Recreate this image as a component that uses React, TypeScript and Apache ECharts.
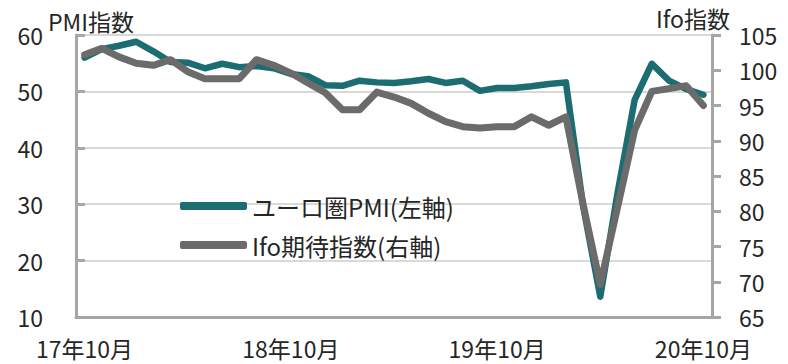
import React, { useEffect, useRef } from "react";
import * as echarts from "echarts";

const months = [
  "17年10月","17年11月","17年12月","18年1月","18年2月","18年3月","18年4月","18年5月","18年6月",
  "18年7月","18年8月","18年9月","18年10月","18年11月","18年12月","19年1月","19年2月","19年3月",
  "19年4月","19年5月","19年6月","19年7月","19年8月","19年9月","19年10月","19年11月","19年12月",
  "20年1月","20年2月","20年3月","20年4月","20年5月","20年6月","20年7月","20年8月","20年9月","20年10月",
];

const pmiValues = [
  56.0, 57.5, 58.1, 58.8, 57.1, 55.2, 55.1, 54.1, 54.9, 54.3, 54.5, 54.1, 53.1,
  52.7, 51.1, 51.0, 51.9, 51.6, 51.5, 51.8, 52.2, 51.5, 51.9, 50.1, 50.6, 50.6,
  50.9, 51.3, 51.6, 29.7, 13.6, 31.9, 48.5, 54.9, 51.9, 50.4, 49.4,
];

const ifoValues = [
  102.2, 103.1, 101.9, 101.0, 100.7, 101.5, 99.8, 98.8, 98.8, 98.8, 101.5, 100.7, 99.6,
  98.2, 96.8, 94.4, 94.4, 96.9, 96.2, 95.3, 93.9, 92.7, 92.0, 91.8, 92.0, 92.0,
  93.4, 92.2, 93.4, 81.0, 69.6, 80.5, 91.5, 97.0, 97.4, 97.8, 95.0,
];

const leftTicks = { min: 10, max: 60, interval: 10 };
const rightTicks = { min: 65, max: 105, interval: 5 };

const pmiName = "ユーロ圏PMI(左軸)";
const ifoName = "Ifo期待指数(右軸)";

const FONT = "'Noto Sans CJK JP', 'Noto Sans', sans-serif";
const TEXT = "#262626";
const AXIS = "#a6a6a6";

export default function App() {
  const ref = useRef<HTMLDivElement>(null);
  useEffect(() => {
    if (!ref.current) return;
    const chart = echarts.init(ref.current, undefined, { renderer: "svg" });
    chart.setOption({
      animation: false,
      textStyle: { fontFamily: FONT },
      grid: { left: 76, right: 76, top: 35, bottom: 47, containLabel: false },
      legend: {
        orient: "vertical",
        left: 175,
        top: 186,
        itemWidth: 67,
        itemHeight: 8,
        itemGap: 9,
        icon: "roundRect",
        textStyle: { fontSize: 24, color: TEXT, fontFamily: FONT, lineHeight: 30 },
        data: [pmiName, ifoName],
      },
      graphic: [
        { type: "text", left: 48, top: 9, style: { text: "PMI指数", fontSize: 23, fill: TEXT, fontFamily: FONT } },
        { type: "text", left: 656, top: 6, style: { text: "Ifo指数", fontSize: 23, fill: TEXT, fontFamily: FONT } },
      ],
      xAxis: {
        type: "category",
        data: months,
        boundaryGap: true,
        axisLine: { lineStyle: { color: AXIS, width: 3 } },
        axisTick: { inside: true, length: 6, interval: 11, lineStyle: { color: AXIS, width: 3 } },
        axisLabel: { interval: 11, fontSize: 23, color: TEXT, margin: 19, fontFamily: FONT },
        splitLine: { show: false },
      },
      yAxis: [
        {
          type: "value",
          min: leftTicks.min,
          max: leftTicks.max,
          interval: leftTicks.interval,
          position: "left",
          axisLine: { show: true, lineStyle: { color: AXIS, width: 3 } },
          axisTick: { show: true, inside: true, length: 9, lineStyle: { color: AXIS, width: 3 } },
          axisLabel: { fontSize: 23, color: TEXT, margin: 33, fontFamily: FONT },
          splitLine: { show: true, lineStyle: { color: "#d9d9d9", width: 2 } },
        },
        {
          type: "value",
          min: rightTicks.min,
          max: rightTicks.max,
          interval: rightTicks.interval,
          position: "right",
          axisLine: { show: true, lineStyle: { color: AXIS, width: 3 } },
          axisTick: { show: true, inside: false, length: 9, lineStyle: { color: AXIS, width: 3 } },
          axisLabel: { fontSize: 23, color: TEXT, margin: 27, fontFamily: FONT },
          splitLine: { show: false },
        },
      ],
      series: [
        {
          name: pmiName,
          type: "line",
          yAxisIndex: 0,
          data: pmiValues,
          showSymbol: false,
          symbol: "none",
          color: "#1b6d72",
          lineStyle: { color: "#1b6d72", width: 6.5, join: "round", cap: "round" },
        },
        {
          name: ifoName,
          type: "line",
          yAxisIndex: 1,
          data: ifoValues,
          showSymbol: false,
          symbol: "none",
          color: "#6b6b6b",
          lineStyle: { color: "#6b6b6b", width: 7, join: "round", cap: "round" },
        },
      ],
    });
    return () => chart.dispose();
  }, []);
  return <div ref={ref} style={{ width: 788, height: 364, position: "absolute", left: 0, top: 0 }} />;
}
